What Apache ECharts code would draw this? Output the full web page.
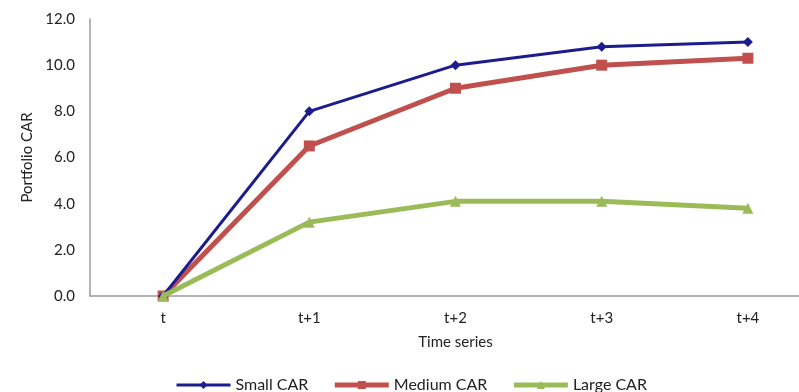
<!DOCTYPE html>
<html><head><meta charset="utf-8">
<script src="https://cdn.jsdelivr.net/npm/echarts@6/dist/echarts.min.js"></script>
<style>html,body{margin:0;padding:0;background:#fff}#c{width:799px;height:392px}</style>
</head><body><div id="c"></div>
<script>
var categories = ['t', 't+1', 't+2', 't+3', 't+4'];
var smallCAR = [0, 8.0, 10.0, 10.8, 11.0];
var mediumCAR = [0, 6.5, 9.0, 10.0, 10.3];
var largeCAR = [0, 3.2, 4.1, 4.1, 3.8];
var yTicks = { min: 0, max: 12, interval: 2 };

var chart = echarts.init(document.getElementById('c'));
var font = 'Lato, "Noto Sans", sans-serif';
chart.setOption({
  animation: false,
  textStyle: { fontFamily: font },
  grid: { left: 90, width: 731, top: 19, bottom: 96, containLabel: false, outerBoundsMode: 'none' },
  legend: {
    top: 372, left: 170,
    itemWidth: 54, itemHeight: 10, itemGap: 24,
    textStyle: { fontFamily: font, fontSize: 16, color: '#222' },
    data: [
      { name: 'Small CAR', lineStyle: { width: 3 } },
      { name: 'Medium CAR', lineStyle: { width: 5 } },
      { name: 'Large CAR', lineStyle: { width: 5 } }
    ]
  },
  xAxis: {
    type: 'category', data: categories, boundaryGap: true,
    name: 'Time series', nameLocation: 'middle', nameGap: 39,
    nameTextStyle: { fontFamily: font, fontSize: 15, color: '#222' },
    axisLine: { lineStyle: { color: '#9a9a9a', width: 1.5 } },
    axisTick: { show: false },
    axisLabel: { fontFamily: font, fontSize: 15, color: '#222', margin: 15 },
    splitLine: { show: false }
  },
  yAxis: {
    type: 'value', min: yTicks.min, max: yTicks.max, interval: yTicks.interval,
    name: 'Portfolio CAR', nameLocation: 'middle', nameGap: 51,
    nameTextStyle: { fontFamily: font, fontSize: 15, color: '#222' },
    axisLine: { show: true, lineStyle: { color: '#9a9a9a', width: 1.5 } },
    axisTick: { show: false },
    axisLabel: { fontFamily: font, fontSize: 15, color: '#222', margin: 15,
      formatter: function (v) { return v.toFixed(1); } },
    splitLine: { show: false }
  },
  series: [
    { name: 'Small CAR', type: 'line', data: smallCAR, symbol: 'diamond', symbolSize: 10,
      lineStyle: { color: '#1c1c8f', width: 3 }, itemStyle: { color: '#1c1c8f' }, z: 4 },
    { name: 'Medium CAR', type: 'line', data: mediumCAR, symbol: 'rect', symbolSize: 11,
      lineStyle: { color: '#c0504d', width: 5 }, itemStyle: { color: '#c0504d' }, z: 3 },
    { name: 'Large CAR', type: 'line', data: largeCAR, symbol: 'triangle', symbolSize: 11,
      lineStyle: { color: '#9bbb59', width: 5 }, itemStyle: { color: '#9bbb59' }, z: 5 }
  ]
});
</script></body></html>
